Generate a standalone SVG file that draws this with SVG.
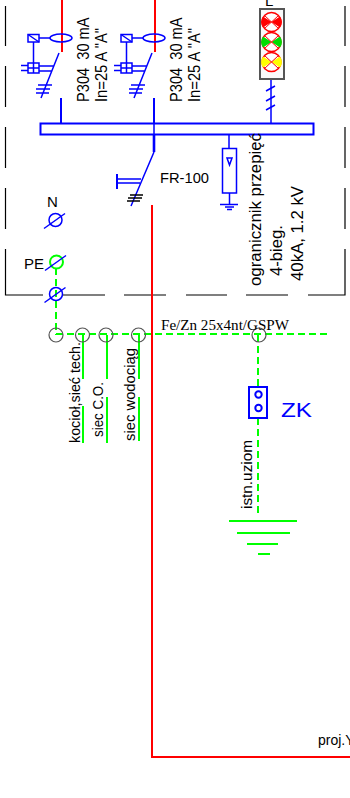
<svg xmlns="http://www.w3.org/2000/svg" width="350" height="798" viewBox="0 0 350 798">
<style>
text{font-family:"Liberation Sans",Arial,sans-serif;font-size:15px;fill:#000}
.b{fill:none;stroke:#00f;stroke-width:1.5}
.bt{fill:none;stroke:#00f;stroke-width:2}
.r{fill:none;stroke:#f00;stroke-width:2}
.g{fill:none;stroke:#0f0;stroke-width:2}
.gd{fill:none;stroke:#0f0;stroke-width:2;stroke-dasharray:7 4}
.k{fill:none;stroke:#000;stroke-width:1.2}
.c{fill:none;stroke:#555;stroke-width:1.2}
</style>
<defs>
<g id="rcd">
<path class="r" d="M62 0V52"/>
<ellipse class="b" cx="61" cy="38" rx="11" ry="4"/>
<rect class="b" x="28" y="34.500" width="11" height="7.500"/>
<path class="b" d="M28 34.500L39 42M39 38H50M33.500 42V63M28 63h11v10h-11zM33.500 63v10M28 68h11M21 65.500h7M21 70.500h7M39 66H54M39 71H52M59 53L41 98M38 85H52M36 89H50M36 93H49"/>
<path class="bt" d="M61 98V123"/>
</g>
<g id="slash"><path class="b" d="M-11 8L10-7"/></g>
</defs>
<g id="frame"><path class="k" d="M5.500 6V46M5.500 66V107M5.500 127V168M5.500 188V229M5.500 249V295H43M63 295H105M124 295H166M186 295H227M246 295H288M308 295H345V249M345 229V188M345 168V127M345 107V66M345 46V6"/></g>
<g id="connectors">
<path class="r" d="M152 205V757H350"/>
<path class="gd" d="M56 268V335"/>
<path class="gd" d="M56 334H327"/>
<path class="gd" d="M258 335V387M258 418V517"/>
<path class="g" d="M83 335V379M83 406V443M107 335V379M107 397V443M139 335V379M139 397V441"/>
<path class="b" d="M154 134V123M229 134V148M271 80V123"/>
</g>
<g id="rcd1"><use href="#rcd"/></g>
<g id="rcd2"><use href="#rcd" x="93"/></g>
<g id="bus"><rect class="bt" x="40.500" y="123.500" width="273" height="11"/></g>
<g id="lamp">
<text x="265" y="6">L</text>
<rect x="260" y="9" width="24" height="70" fill="#fafafa" stroke="#555" stroke-width="2"/>
<g stroke="#f00" stroke-width="1.5" fill="#fff">
<circle cx="271.500" cy="22" r="9.500"/><path fill="#f00" stroke="none" d="M271.500 22L263 16.500A9.500 9.500 0 0 0 263 27.500ZM271.500 22L280 16.500A9.500 9.500 0 0 1 280 27.500Z"/>
<circle cx="271.500" cy="42" r="9.500"/><path fill="#0d0" stroke="none" d="M271.500 42L263 36.500A9.500 9.500 0 0 0 263 47.500ZM271.500 42L280 36.500A9.500 9.500 0 0 1 280 47.500Z"/>
<circle cx="271.500" cy="62" r="9.500"/><path fill="#ff0" stroke="none" d="M271.500 62L263 56.500A9.500 9.500 0 0 0 263 67.500ZM271.500 62L280 56.500A9.500 9.500 0 0 1 280 67.500Z"/>
<path fill="none" stroke-width="1" d="M264.500 15.500L278.500 28.500M278.500 15.500L264.500 28.500M264.500 35.500L278.500 48.500M278.500 35.500L264.500 48.500M264.500 55.500L278.500 68.500M278.500 55.500L264.500 68.500"/>
</g>
<path class="b" d="M266 91L275 86M266 101L275 96M266 110L275 105"/>
</g>
<g id="breaker">
<path class="b" d="M154 134V152" style="stroke-width:2.600"/>
<path class="b" d="M154 152L131 206M117 179H141M117 183H140"/>
<path class="bt" d="M117 174V189"/>
<path class="k" d="M130 195H143M128 198H142M127 201H140" style="stroke-width:1.500"/>
<text x="160" y="183" textLength="49" lengthAdjust="spacingAndGlyphs">FR-100</text>
</g>
<g id="surge">
<rect class="b" x="222.500" y="148.500" width="14" height="44.500"/>
<path class="b" d="M229.500 193V204M220 204.500H238M225 207H234M227 209.500H232M227 158H232L229.500 165Z"/>
<text transform="translate(261 286) rotate(-90)" style="font-size:16px" textLength="153" lengthAdjust="spacingAndGlyphs">ogranicznik przepięć</text>
<text transform="translate(282 276) rotate(-90)" style="font-size:16px" textLength="51" lengthAdjust="spacingAndGlyphs">4-bieg.</text>
<text transform="translate(303 281) rotate(-90)" style="font-size:16px" textLength="95" lengthAdjust="spacingAndGlyphs">40kA, 1.2 kV</text>
</g>
<g id="labels-rcd">
<text transform="translate(89 102) rotate(-90)" xml:space="preserve" style="font-size:16px" textLength="84.500" lengthAdjust="spacingAndGlyphs">P304  30 mA</text>
<text transform="translate(106.500 102) rotate(-90)" style="font-size:16px" textLength="74" lengthAdjust="spacingAndGlyphs">In=25 A "A"</text>
<text transform="translate(182 102) rotate(-90)" xml:space="preserve" style="font-size:16px" textLength="84.500" lengthAdjust="spacingAndGlyphs">P304  30 mA</text>
<text transform="translate(199.500 102) rotate(-90)" style="font-size:16px" textLength="74" lengthAdjust="spacingAndGlyphs">In=25 A "A"</text>
</g>
<g id="n"><text x="47" y="207">N</text><circle class="b" cx="55.500" cy="220" r="6.500"/><use href="#slash" x="55" y="220.500"/></g>
<g id="pe"><text x="24" y="269">PE</text><circle class="g" cx="56.500" cy="262" r="6.500"/><use href="#slash" x="56" y="262.500"/></g>
<g id="pe2"><circle class="b" cx="56" cy="294" r="6.500"/><use href="#slash" x="55.500" y="294.500"/></g>
<g id="terminals"><circle class="c" cx="56" cy="335" r="7"/><circle class="c" cx="82.500" cy="335" r="7"/><circle class="c" cx="106" cy="335" r="7"/><circle class="c" cx="138.500" cy="335" r="7"/><circle class="c" cx="259" cy="335" r="7"/></g>
<g id="earth-labels">
<text transform="translate(80 443) rotate(-90)" textLength="101" lengthAdjust="spacingAndGlyphs">kocioł,sieć tech.</text>
<text transform="translate(103 437) rotate(-90)" textLength="55" lengthAdjust="spacingAndGlyphs">siec C.O.</text>
<text transform="translate(135 441) rotate(-90)" textLength="93" lengthAdjust="spacingAndGlyphs">siec wodociąg</text>
<text transform="translate(252 509) rotate(-90)" textLength="69" lengthAdjust="spacingAndGlyphs">istn.uziom</text>
<text x="161" y="330" style="font-family:'Liberation Serif',serif;font-size:14px" textLength="128" lengthAdjust="spacingAndGlyphs">Fe/Zn 25x4nt/GSPW</text>
<text x="318" y="745" style="font-size:14px">proj.Y</text>
</g>
<g id="zk">
<rect class="bt" x="249" y="387" width="18" height="31" fill="#fff"/>
<circle class="bt" cx="258.500" cy="394.500" r="3.200"/><circle class="bt" cx="258.500" cy="408" r="3.200"/>
<text x="281" y="417" style="font-size:21px;fill:#00f" textLength="31" lengthAdjust="spacingAndGlyphs">ZK</text>
</g>
<g id="earth"><path class="g" d="M229 521H297M237 533H290M247 544H278M258 554H270"/></g>
</svg>
